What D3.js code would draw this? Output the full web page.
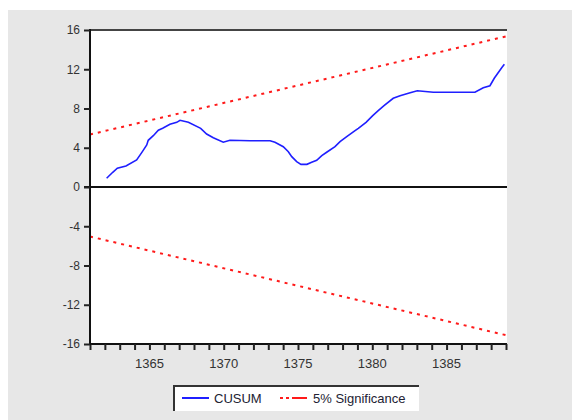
<!DOCTYPE html>
<meta charset="utf-8">
<script src="https://d3js.org/d3.v7.min.js"></script>
<body style="margin:0">
<script>
    // Data
    var cusumTime = [1362.12, 1362.53, 1362.84, 1363.42, 1364.14, 1364.48, 1364.82, 1364.92, 1365.26, 1365.6,
        1365.89, 1366.38, 1366.84, 1367.06, 1367.62, 1368.45, 1368.85, 1369.3, 1369.97, 1370.42,
        1371.77, 1373.12, 1373.45, 1374.01, 1374.35, 1374.58, 1374.91, 1375.2, 1375.6, 1375.92,
        1376.26, 1376.6, 1376.93, 1377.49, 1377.83, 1378.28, 1378.84, 1379.06, 1379.58, 1380.03,
        1380.4, 1380.79, 1381.41, 1381.87, 1382.49, 1383.03, 1384.11, 1385.68, 1386.91, 1387.47,
        1387.92, 1388.21, 1388.71, 1388.89];
    var cusumValue = [0.89, 1.5, 1.91, 2.14, 2.75, 3.5, 4.28, 4.76, 5.23, 5.78,
        5.98, 6.39, 6.59, 6.8, 6.59, 5.98, 5.4, 5.02, 4.56, 4.76,
        4.72, 4.72, 4.56, 4.11, 3.6, 3.09, 2.58, 2.31, 2.31, 2.52,
        2.72, 3.19, 3.54, 4.11, 4.62, 5.13, 5.74, 5.98, 6.59, 7.27,
        7.78, 8.29, 9.04, 9.3, 9.58, 9.81, 9.65, 9.65, 9.65, 10.12,
        10.32, 11.08, 12.16, 12.5];
    var boundTime = [1361, 1389];
    var upperBound = [5.35, 15.35];
    var lowerBound = [-5.05, -15.1];
    var yTicks = [16, 12, 8, 4, 0, -4, -8, -12, -16];
    var xTickYears = d3.range(1361, 1390);
    var xLabelYears = [1365, 1370, 1375, 1380, 1385];

    var SVGWidth = 572, SVGHeight = 420;
    var plot = {left: 90, right: 507, top: 30, bottom: 344};

    var x = d3.scaleLinear().domain([1361, 1389]).range([plot.left, 506]);
    var y = d3.scaleLinear().domain([-16, 16]).range([plot.bottom, plot.top]);

    var svg = d3.select("body").append("svg")
        .attr("width", SVGWidth)
        .attr("height", SVGHeight)
        .style("display", "block");

    // backgrounds
    svg.append("rect").attr("width", SVGWidth).attr("height", SVGHeight).attr("fill", "#ffffff");
    svg.append("rect").attr("x", 8).attr("y", 10)
        .attr("width", SVGWidth - 8).attr("height", SVGHeight - 10).attr("fill", "#e7e7e7");
    svg.append("rect").attr("x", plot.left).attr("y", plot.top)
        .attr("width", plot.right - plot.left).attr("height", plot.bottom - plot.top)
        .attr("fill", "#ffffff");

    // zero line
    svg.append("line")
        .attr("x1", plot.left - 6).attr("x2", plot.right)
        .attr("y1", y(0)).attr("y2", y(0))
        .attr("stroke", "#111").attr("stroke-width", 2);

    // bounds
    var lineGen = d3.line()
        .x(function(d) { return x(d[0]); })
        .y(function(d) { return y(d[1]); });

    [upperBound, lowerBound].forEach(function(b) {
        svg.append("path")
            .datum(d3.zip(boundTime, b))
            .attr("d", lineGen)
            .attr("fill", "none")
            .attr("stroke", "#ff1a1a")
            .attr("stroke-width", 2)
            .attr("stroke-dasharray", "3,5");
    });

    // CUSUM
    svg.append("path")
        .datum(d3.zip(cusumTime, cusumValue))
        .attr("d", lineGen)
        .attr("fill", "none")
        .attr("stroke", "#1f1fff")
        .attr("stroke-width", 1.6);

    // frame
    svg.append("line").attr("x1", plot.left).attr("x2", plot.right)
        .attr("y1", plot.top).attr("y2", plot.top)
        .attr("stroke", "#444").attr("stroke-width", 2);

    // axes
    svg.append("g")
        .attr("transform", "translate(0," + plot.bottom + ")")
        .call(d3.axisBottom(x).tickValues(xTickYears).tickSize(6).tickFormat(""))
        .call(function(g) {
            g.select(".domain").attr("d", "M" + (plot.left - 1) + ",0H" + plot.right).attr("stroke-width", 2).attr("stroke", "#111");
            g.selectAll(".tick line").attr("stroke-width", 2).attr("stroke", "#222");
        });

    svg.append("g")
        .selectAll("text")
        .data(xLabelYears)
        .enter()
        .append("text")
        .attr("x", function(d) { return x(d); })
        .attr("y", 368)
        .attr("text-anchor", "middle")
        .style("font", "13px 'Liberation Sans', Arial, sans-serif")
        .attr("fill", "#333")
        .text(function(d) { return d; });

    svg.append("g")
        .attr("transform", "translate(" + plot.left + ",0)")
        .call(d3.axisLeft(y).tickValues(yTicks).tickSize(6).tickPadding(4).tickFormat(function(d) { return String(d); }))
        .call(function(g) {
            g.select(".domain").attr("d", "M0," + (plot.top - 1) + "V" + (plot.bottom + 1)).attr("stroke-width", 2).attr("stroke", "#111");
            g.selectAll(".tick line").attr("stroke-width", 2).attr("stroke", "#222");
            g.selectAll(".tick text")
                .style("font", "12px 'Liberation Sans', Arial, sans-serif")
                .attr("fill", "#333");
        });

    // legend
    var legend = svg.append("g").attr("transform", "translate(173,385)");
    legend.append("rect").attr("width", 246).attr("height", 26).attr("fill", "#ffffff");
    legend.append("path").attr("d", "M1,26V1H246").attr("fill", "none")
        .attr("stroke", "#333").attr("stroke-width", 2);
    legend.append("line").attr("x1", 9).attr("x2", 36).attr("y1", 13).attr("y2", 13)
        .attr("stroke", "#1f1fff").attr("stroke-width", 2);
    legend.append("text").attr("x", 41).attr("y", 18)
        .style("font", "13px 'Liberation Sans', Arial, sans-serif").attr("fill", "#223")
        .text("CUSUM");
    legend.append("line").attr("x1", 107).attr("x2", 134).attr("y1", 13).attr("y2", 13)
        .attr("stroke", "#ff1a1a").attr("stroke-width", 2).attr("stroke-dasharray", "3,3,3,3,15");
    legend.append("text").attr("x", 140).attr("y", 18)
        .style("font", "13px 'Liberation Sans', Arial, sans-serif").attr("fill", "#223")
        .text("5% Significance");
</script>
</body>
